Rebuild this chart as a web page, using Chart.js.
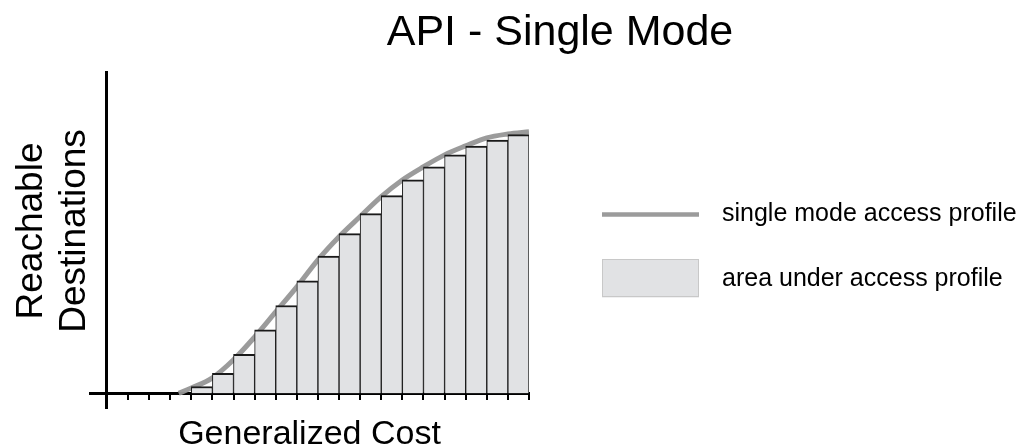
<!DOCTYPE html>
<html>
<head>
<meta charset="utf-8">
<title>API - Single Mode</title>
<script src="https://cdn.jsdelivr.net/npm/chart.js@4.4.1/dist/chart.umd.min.js"></script>
<style>
  html, body { margin: 0; padding: 0; background: #fff; }
  #wrap { width: 1020px; height: 448px; position: relative; }
</style>
</head>
<body>
<div id="wrap"><canvas id="chart"></canvas></div>
<script>
// generalized cost ticks along the x axis
const costTicks = [1, 2, 3, 4, 5, 6, 7, 8, 9, 10, 11, 12, 13, 14, 15, 16, 17, 18, 19, 20];

// step bars (area under access profile), one per cost bin
const binStart = [4, 5, 6, 7, 8, 9, 10, 11, 12, 13, 14, 15, 16, 17, 18, 19];
const binHeight = [2.1, 6.2, 12.1, 19.7, 27.3, 35.0, 42.7, 49.7, 55.9, 61.5, 66.4, 70.5, 74.2, 76.9, 78.8, 80.5];

// single mode access profile (smooth curve)
const profileCost = [3.4, 4, 5, 6, 7, 8, 9, 10, 11, 12, 13, 14, 15, 16, 17, 18, 19, 20];
const profileValue = [0, 1.6, 4.8, 10.4, 17.5, 25.3, 33.1, 41.5, 48.7, 55.0, 61.2, 66.4, 70.5, 74.2, 77.0, 79.5, 80.7, 81.4];

const titleText = 'API - Single Mode';
const xTitle = 'Generalized Cost';
const yTitle = ['Reachable', 'Destinations'];
const legendLabels = ['single mode access profile', 'area under access profile'];

const FONT = '"Liberation Sans", Arial, Helvetica, sans-serif';
const curveColor = 'rgba(150,150,150,0.95)';
const barFill = '#e1e2e4';

// titles and the hand-made legend
const annotate = {
  id: 'annotate',
  afterDraw(chart) {
    const { ctx, chartArea } = chart;
    ctx.save();
    ctx.fillStyle = '#000';

    ctx.textAlign = 'center';
    ctx.textBaseline = 'alphabetic';
    ctx.font = '43px ' + FONT;
    ctx.fillText(titleText, 560, 45);

    ctx.font = '34px ' + FONT;
    ctx.fillText(xTitle, (chartArea.left + chartArea.right) / 2, 444);

    ctx.save();
    ctx.translate(0, 231);
    ctx.rotate(-Math.PI / 2);
    ctx.font = '37px ' + FONT;
    ctx.fillText(yTitle[0], 0, 42);
    ctx.fillText(yTitle[1], 0, 85);
    ctx.restore();

    // legend
    ctx.strokeStyle = curveColor;
    ctx.lineWidth = 4.5;
    ctx.beginPath();
    ctx.moveTo(602, 214.5);
    ctx.lineTo(699, 214.5);
    ctx.stroke();

    ctx.fillStyle = barFill;
    ctx.fillRect(602, 259.5, 97, 38);
    ctx.strokeStyle = '#c8c8c8';
    ctx.lineWidth = 1;
    ctx.strokeRect(602.5, 259.5, 96, 37);

    ctx.fillStyle = '#000';
    ctx.textAlign = 'left';
    ctx.textBaseline = 'middle';
    ctx.font = '25px ' + FONT;
    ctx.fillText(legendLabels[0], 722, 214);
    ctx.fillText(legendLabels[1], 722, 279);
    ctx.restore();
  }
};

const ctx = document.getElementById('chart').getContext('2d');

new Chart(ctx, {
  type: 'line',
  data: {
    datasets: [
      {
        type: 'bar',
        label: legendLabels[1],
        data: binStart.map((c, i) => ({ x: c + 0.5, y: binHeight[i] })),
        backgroundColor: barFill,
        borderColor: '#1a1a1a',
        borderWidth: { top: 2, left: 1, right: 1, bottom: 0 },
        borderSkipped: false,
        categoryPercentage: 1,
        barPercentage: 1,
        order: 0,
      },
      {
        type: 'line',
        label: legendLabels[0],
        data: profileCost.map((c, i) => ({ x: c, y: profileValue[i] })),
        borderColor: curveColor,
        borderWidth: 5,
        pointRadius: 0,
        cubicInterpolationMode: 'monotone',
        fill: false,
        order: 1,
      },
    ],
  },
  options: {
    responsive: true,
    maintainAspectRatio: false,
    animation: false,
    layout: { padding: { left: 90, right: 491, top: 72, bottom: 40 } },
    plugins: {
      legend: { display: false },
      title: { display: false },
      tooltip: { enabled: false },
    },
    scales: {
      x: {
        type: 'linear',
        position: { y: 0 },
        min: -0.8,
        max: 20,
        offset: false,
        afterBuildTicks: (scale) => {
          scale.ticks = costTicks.map((v) => ({ value: v }));
        },
        ticks: { display: false },
        grid: {
          drawOnChartArea: false,
          drawTicks: true,
          tickLength: 5,
          color: '#000',
          lineWidth: 2,
          offset: false,
        },
        border: { display: true, color: '#000', width: 3 },
      },
      y: {
        type: 'linear',
        position: { x: 0 },
        min: -4.6,
        max: 100,
        ticks: { display: false },
        grid: { display: false },
        border: { display: true, color: '#000', width: 3 },
      },
    },
  },
  plugins: [annotate],
});
</script>
</body>
</html>
